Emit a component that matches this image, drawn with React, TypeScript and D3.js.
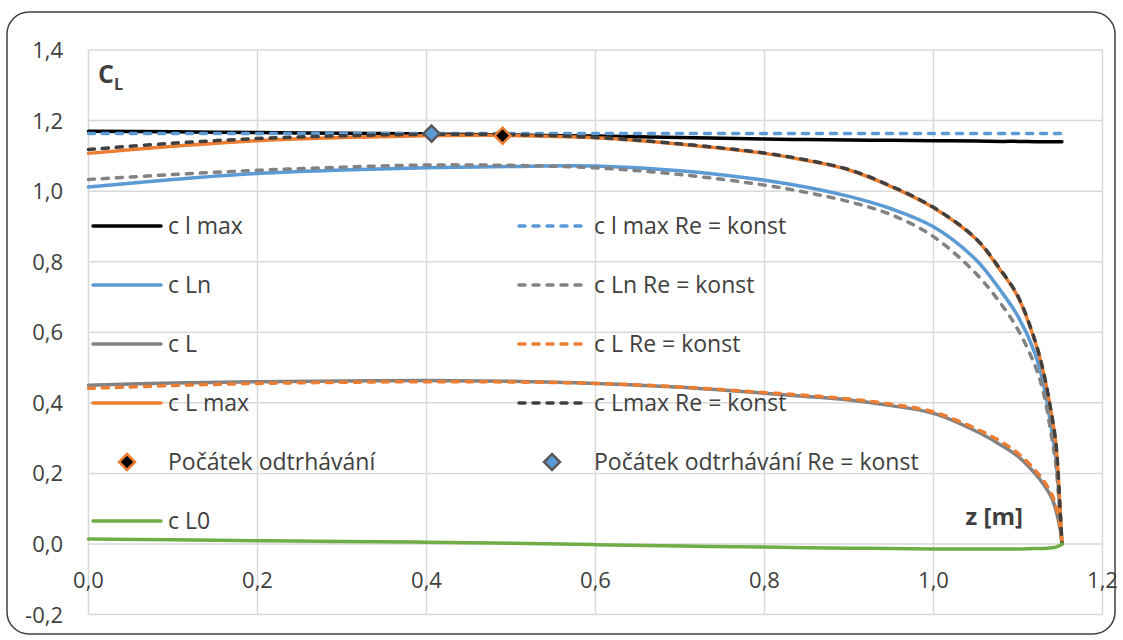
import React from "react";
import * as d3 from "d3";

const Z = [0, 0.1, 0.2, 0.3, 0.4, 0.5, 0.6, 0.7, 0.8, 0.85, 0.9, 0.95, 1.0, 1.05, 1.08, 1.1, 1.12, 1.13, 1.14, 1.145, 1.15, 1.152];

const clMax = [1.170, 1.168, 1.166, 1.164, 1.162, 1.159, 1.156, 1.152, 1.148, 1.146, 1.145, 1.144, 1.143, 1.142, 1.141, 1.141, 1.140, 1.140, 1.140, 1.140, 1.140, 1.140];
const clMaxRe = [1.163, 1.163, 1.163, 1.163, 1.163, 1.163, 1.163, 1.163, 1.163, 1.163, 1.163, 1.163, 1.163, 1.163, 1.163, 1.163, 1.163, 1.163, 1.163, 1.163, 1.163, 1.163];
const cLn = [1.012, 1.033, 1.050, 1.060, 1.066, 1.070, 1.071, 1.058, 1.031, 1.011, 0.985, 0.950, 0.899, 0.806, 0.716, 0.645, 0.541, 0.455, 0.320, 0.240, 0.080, 0.0];
const cLnRe = [1.033, 1.047, 1.059, 1.068, 1.074, 1.073, 1.066, 1.047, 1.017, 0.996, 0.970, 0.933, 0.871, 0.767, 0.680, 0.607, 0.506, 0.430, 0.300, 0.220, 0.070, 0.0];
const cL = [0.450, 0.456, 0.460, 0.462, 0.463, 0.461, 0.455, 0.444, 0.427, 0.418, 0.408, 0.392, 0.370, 0.320, 0.280, 0.248, 0.200, 0.170, 0.130, 0.095, 0.040, 0.0];
const cLRe = [0.441, 0.449, 0.455, 0.458, 0.460, 0.459, 0.455, 0.445, 0.429, 0.421, 0.411, 0.396, 0.374, 0.327, 0.290, 0.257, 0.210, 0.180, 0.140, 0.105, 0.050, 0.0];
const cLmax = [1.107, 1.127, 1.143, 1.152, 1.157, 1.158, 1.151, 1.133, 1.107, 1.087, 1.060, 1.013, 0.953, 0.865, 0.773, 0.700, 0.575, 0.487, 0.362, 0.280, 0.090, 0.0];
const cLmaxRe = [1.118, 1.136, 1.149, 1.157, 1.161, 1.160, 1.152, 1.134, 1.108, 1.088, 1.061, 1.014, 0.954, 0.866, 0.775, 0.702, 0.577, 0.489, 0.364, 0.282, 0.090, 0.0];
const cL0 = [0.014, 0.012, 0.009, 0.007, 0.005, 0.002, -0.002, -0.006, -0.009, -0.011, -0.012, -0.013, -0.014, -0.014, -0.014, -0.014, -0.013, -0.013, -0.011, -0.009, -0.004, 0.0];

const onsetZ = [0.49];
const onsetV = [1.157];
const onsetReZ = [0.406];
const onsetReV = [1.163];

const xTicks = [0, 0.2, 0.4, 0.6, 0.8, 1.0, 1.2];
const yTicks = [-0.2, 0, 0.2, 0.4, 0.6, 0.8, 1.0, 1.2, 1.4];

const leftLegend = ["c l max", "c Ln", "c L", "c L max", "Počátek odtrhávání", "c L0"];
const rightLegend = ["c l max Re = konst", "c Ln Re = konst", "c L Re = konst", "c Lmax Re = konst", "Počátek odtrhávání Re = konst"];

const BLUE = "#5B9BD5";
const ORANGE = "#ED7D31";
const GRAY = "#828282";
const DKGRAY = "#404040";
const GREEN = "#70AD47";
const TEXT = "#404040";
const FONT = "'Open Sans', sans-serif";

type S = { name: string; values: number[]; color: string; dashed: boolean };

const series: S[] = [
  { name: "clMax", values: clMax, color: "#000000", dashed: false },
  { name: "clMaxRe", values: clMaxRe, color: BLUE, dashed: true },
  { name: "cLn", values: cLn, color: BLUE, dashed: false },
  { name: "cLnRe", values: cLnRe, color: GRAY, dashed: true },
  { name: "cL", values: cL, color: GRAY, dashed: false },
  { name: "cLRe", values: cLRe, color: ORANGE, dashed: true },
  { name: "cLmax", values: cLmax, color: ORANGE, dashed: false },
  { name: "cLmaxRe", values: cLmaxRe, color: DKGRAY, dashed: true },
];

const fmt = (v: number) => v.toFixed(1).replace(".", ",");

export default function App() {
  const x = d3.scaleLinear().domain([0, 1.2]).range([88.5, 1102.5]);
  const y = d3.scaleLinear().domain([-0.2, 1.4]).range([614.5, 50]);
  const line = d3
    .line<number>()
    .x((_, i) => x(Z[i]))
    .y((d) => y(d))
    .curve(d3.curveCatmullRom.alpha(0.5));

  const SW = 3.5;
  const dash = "6 8";

  const diamond = (cx: number, cy: number, r: number) =>
    `M${cx},${cy - r}L${cx + r},${cy}L${cx},${cy + r}L${cx - r},${cy}Z`;

  const rowY = [226, 285, 344, 403, 462, 521];
  const leftStyles = [
    { color: "#000000" },
    { color: BLUE },
    { color: GRAY },
    { color: ORANGE },
    null,
    { color: GREEN },
  ];
  const rightStyles = [{ color: BLUE }, { color: GRAY }, { color: ORANGE }, { color: DKGRAY }, null];

  return (
    <svg
      width={1123}
      height={640}
      style={{ position: "absolute", left: 0, top: 0, background: "#fff" }}
      fontFamily={FONT}
    >
      <rect x={7} y={12} width={1108} height={622} rx={22} ry={22} fill="#fff" stroke="#404040" strokeWidth={1.5} />

      {yTicks.map((t) => (
        <line key={"gy" + t} x1={x(0)} x2={x(1.2)} y1={y(t)} y2={y(t)} stroke="#D9D9D9" strokeWidth={1.5} />
      ))}
      {xTicks.map((t) => (
        <line key={"gx" + t} x1={x(t)} x2={x(t)} y1={y(1.4)} y2={y(-0.2)} stroke="#D9D9D9" strokeWidth={1.5} />
      ))}

      {yTicks.map((t) => (
        <text key={"ty" + t} x={63} y={y(t) + 8} textAnchor="end" fontSize={22} fill={TEXT}>
          {fmt(t)}
        </text>
      ))}
      {xTicks.map((t) => (
        <text key={"tx" + t} x={x(t)} y={588} textAnchor="middle" fontSize={22} fill={TEXT}>
          {fmt(t)}
        </text>
      ))}

      {series.map((s) => (
        <path
          key={s.name}
          d={line(s.values) || ""}
          fill="none"
          stroke={s.color}
          strokeWidth={SW}
          strokeDasharray={s.dashed ? dash : undefined}
          strokeLinecap="round"
          strokeLinejoin="round"
        />
      ))}

      {onsetZ.map((z, i) => (
        <path key={"m" + i} d={diamond(x(z), y(onsetV[i]), 8)} fill="#000" stroke={ORANGE} strokeWidth={2.5} />
      ))}
      {onsetReZ.map((z, i) => (
        <path key={"mr" + i} d={diamond(x(z), y(onsetReV[i]), 8)} fill={BLUE} stroke="#595959" strokeWidth={2.5} />
      ))}

      <path d={line(cL0) || ""} fill="none" stroke={GREEN} strokeWidth={SW} strokeLinecap="round" />

      {leftLegend.map((lab, i) => {
        const st = leftStyles[i];
        return (
          <g key={"ll" + i}>
            {st ? (
              <line x1={93} x2={161} y1={rowY[i]} y2={rowY[i]} stroke={st.color} strokeWidth={SW} strokeLinecap="round" />
            ) : (
              <path d={diamond(127, rowY[i], 8)} fill="#000" stroke={ORANGE} strokeWidth={2.5} />
            )}
            <text x={168} y={rowY[i] + 8} fontSize={23} fill={TEXT}>
              {lab}
            </text>
          </g>
        );
      })}
      {rightLegend.map((lab, i) => {
        const st = rightStyles[i];
        return (
          <g key={"rl" + i}>
            {st ? (
              <line x1={519} x2={586} y1={rowY[i]} y2={rowY[i]} stroke={st.color} strokeWidth={SW} strokeDasharray={dash} strokeLinecap="round" />
            ) : (
              <path d={diamond(552, rowY[i], 8)} fill={BLUE} stroke="#595959" strokeWidth={2.5} />
            )}
            <text x={594} y={rowY[i] + 8} fontSize={23} fill={TEXT}>
              {lab}
            </text>
          </g>
        );
      })}

      <text x={98} y={83} fontSize={25} fontWeight="bold" fill={TEXT}>
        C
        <tspan fontSize={16} dy={7}>L</tspan>
      </text>
      <text x={1023} y={525} textAnchor="end" fontSize={24} fontWeight="bold" fill={TEXT}>
        z [m]
      </text>
    </svg>
  );
}
